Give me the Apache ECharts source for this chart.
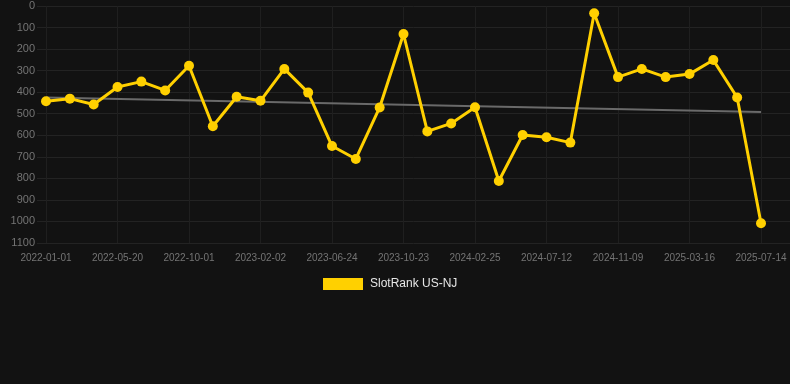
<!DOCTYPE html>
<html>
<head>
<meta charset="utf-8">
<script src="https://cdn.jsdelivr.net/npm/echarts@6/dist/echarts.min.js"></script>
<style>
html,body{margin:0;padding:0;background:#121212;}
#chart{width:790px;height:384px;}
</style>
</head>
<body>
<div id="chart"></div>
<script>
const categories = [
  '2022-01-01','2022-02-16','2022-04-03','2022-05-20','2022-07-04','2022-08-18',
  '2022-10-01','2022-11-11','2022-12-22','2023-02-02','2023-03-21','2023-05-07',
  '2023-06-24','2023-08-02','2023-09-12','2023-10-23','2023-12-03','2024-01-14',
  '2024-02-25','2024-04-10','2024-05-26','2024-07-12','2024-08-20','2024-09-30',
  '2024-11-09','2024-12-24','2025-02-01','2025-03-16','2025-04-28','2025-06-01',
  '2025-07-14'
];
const rankValues = [
  442, 430, 457, 376, 351, 392,
  277, 558, 421, 440, 292, 402,
  650, 710, 471, 130, 582, 545,
  470, 812, 599, 609, 634, 34,
  330, 292, 330, 316, 251, 425,
  1008
];
const trendValues = [425, 492]; // start and end of the trend line
const yTicks = [0, 1100, 100]; // min, max, interval

const trendData = categories.map((c, i) =>
  i === 0 ? trendValues[0] : (i === categories.length - 1 ? trendValues[1] : null));

const font = 'Liberation Sans, Arial, sans-serif';
const chart = echarts.init(document.getElementById('chart'), null, {renderer: 'canvas'});
chart.setOption({
  backgroundColor: '#121212',
  animation: false,
  grid: [
    {left: 37, right: 0, top: 6, bottom: 141},
    {left: 46, right: 29, top: 6, bottom: 141}
  ],
  legend: {
    data: ['SlotRank US-NJ'],
    top: 273,
    left: 318,
    icon: 'rect',
    itemWidth: 40,
    itemHeight: 12,
    textStyle: {color: '#e6e6e6', fontSize: 12, fontFamily: font, padding: [0, 0, 0, 2]}
  },
  xAxis: [
    {
      gridIndex: 0, type: 'value', min: 0, max: 1,
      show: false, splitLine: {show: false}
    },
    {
      gridIndex: 1,
      type: 'category',
      data: categories,
      boundaryGap: false,
      axisLine: {show: false},
      axisTick: {show: false},
      axisLabel: {interval: 2, color: '#747474', fontSize: 10, margin: 10, fontFamily: font},
      splitLine: {show: true, interval: 2, lineStyle: {color: '#1f1f1f'}}
    }
  ],
  yAxis: [
    {
      gridIndex: 0,
      type: 'value',
      inverse: true,
      min: yTicks[0], max: yTicks[1], interval: yTicks[2],
      axisLine: {show: false},
      axisTick: {show: false},
      axisLabel: {color: '#747474', fontSize: 11, margin: 2, fontFamily: font,
                  formatter: v => String(v)},
      splitLine: {show: true, lineStyle: {color: '#232323'}}
    },
    {
      gridIndex: 1,
      type: 'value',
      inverse: true,
      min: yTicks[0], max: yTicks[1], interval: yTicks[2],
      show: false,
      splitLine: {show: false}
    }
  ],
  series: [
    {
      name: 'Trend',
      type: 'line',
      xAxisIndex: 1, yAxisIndex: 1,
      data: trendData,
      connectNulls: true,
      symbol: 'none',
      lineStyle: {color: '#6a6a6a', width: 2},
      silent: true,
      z: 1
    },
    {
      name: 'SlotRank US-NJ',
      type: 'line',
      xAxisIndex: 1, yAxisIndex: 1,
      data: rankValues,
      symbol: 'circle',
      symbolSize: 10,
      itemStyle: {color: '#ffd000'},
      lineStyle: {color: '#ffd000', width: 3},
      z: 2
    }
  ]
});
</script>
</body>
</html>
